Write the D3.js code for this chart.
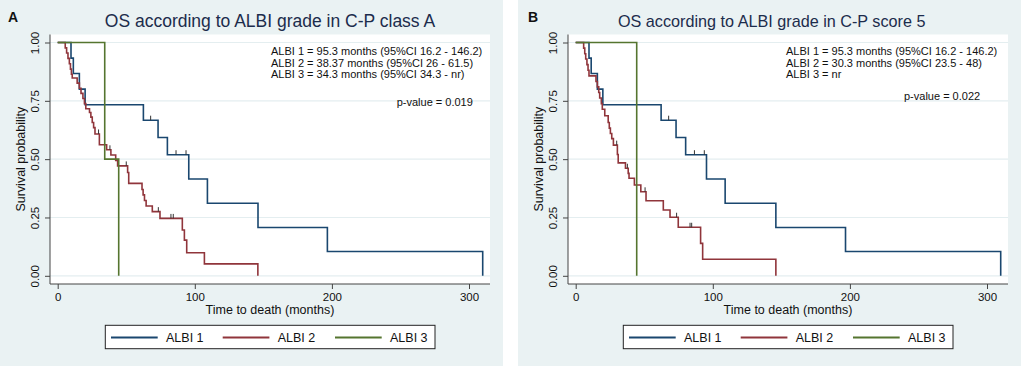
<!DOCTYPE html>
<html>
<head>
<meta charset="utf-8">
<script src="https://cdn.jsdelivr.net/npm/d3@7"></script>
<style>
  body { margin: 0; background: #fff; }
  svg { display: block; font-family: "Liberation Sans", Arial, sans-serif; }
</style>
</head>
<body>
<svg id="chart" width="1021" height="366"></svg>
<script>
// Series / axis definitions
const seriesNames = ["ALBI 1", "ALBI 2", "ALBI 3"];
const seriesColors = ["#1a476f", "#90353b", "#55752f"];
const timeTicks = [0, 100, 200, 300];
const survTicks = [0, 0.25, 0.5, 0.75, 1];
const survTickLabels = ["0.00", "0.25", "0.50", "0.75", "1.00"];

// Panel A: C-P class A
const aAlbi1Time = [0, 9.7, 11.4, 15.8, 20, 62.5, 73.2, 80, 95.6, 109.2, 146.1, 196.7, 310];
const aAlbi1Surv = [1, 0.933, 0.867, 0.8, 0.733, 0.667, 0.593, 0.519, 0.415, 0.311, 0.207, 0.104, 0];
const aAlbi1Cens = [67.8, 86.3, 93.6];
const aAlbi2Time = [0, 5.5, 6.5, 7.5, 8.5, 9.3, 10, 10.6, 14.2, 15.8, 17, 18.4, 19.5, 20.5, 23.2, 24.2, 25.2, 26.2, 27.2,
  30.4, 35.7, 38.8, 42.3, 43.7, 51, 51.8, 61.5, 62.3, 63.3, 64.5, 69, 74.6, 90.9, 92.4, 94.1, 107, 146];
const aAlbi2Surv = [1, 0.977, 0.955, 0.932, 0.909, 0.886, 0.864, 0.848, 0.826, 0.804, 0.782, 0.76, 0.738, 0.716, 0.7, 0.68, 0.657, 0.635, 0.608,
  0.562, 0.54, 0.518, 0.494, 0.471, 0.443, 0.396, 0.37, 0.347, 0.323, 0.299, 0.275, 0.246, 0.196, 0.153, 0.099, 0.051, 0];
const aAlbi2Cens = [29.8, 38.1, 50, 73.4, 82.6, 84.3];
const aAlbi3Time = [0, 34.3, 44.5];
const aAlbi3Surv = [1, 0.5, 0];
const aAlbi3Cens = [];
const aNotes = [
  "ALBI 1 = 95.3 months (95%CI 16.2 - 146.2)",
  "ALBI 2 = 38.37 months (95%CI 26 - 61.5)",
  "ALBI 3 = 34.3 months (95%CI 34.3 - nr)"
];
const aPValue = "p-value = 0.019";

// Panel B: C-P score 5
const bAlbi1Time = [0, 9.7, 11.3, 15.8, 19.8, 62.3, 73.2, 80.2, 95.4, 109, 146, 196.8, 310];
const bAlbi1Surv = [1, 0.933, 0.867, 0.8, 0.733, 0.667, 0.593, 0.519, 0.415, 0.311, 0.207, 0.104, 0];
const bAlbi1Cens = [67.8, 86.6, 93.8];
const bAlbi2Time = [0, 5.8, 6.6, 7.3, 8.2, 9, 9.7, 14.8, 15.8, 16.8, 17.5, 18.7, 19.4, 21.2, 23.7, 24.5, 25.3, 26.3, 27.5,
  30.4, 31, 36.3, 38.3, 38.9, 42.8, 47.5, 51.3, 63.9, 68.8, 74.8, 91.1, 92.6, 146];
const bAlbi2Surv = [1, 0.976, 0.952, 0.929, 0.905, 0.881, 0.857, 0.833, 0.81, 0.786, 0.762, 0.738, 0.714, 0.686, 0.657, 0.633, 0.61, 0.588, 0.56,
  0.52, 0.484, 0.461, 0.439, 0.418, 0.389, 0.36, 0.322, 0.282, 0.251, 0.208, 0.139, 0.071, 0];
const bAlbi2Cens = [29.9, 37.7, 50.6, 73.6, 83.4, 84.6];
const bAlbi3Time = [0, 44.5];
const bAlbi3Surv = [1, 0];
const bAlbi3Cens = [];
const bNotes = [
  "ALBI 1 = 95.3 months (95%CI 16.2 - 146.2)",
  "ALBI 2 = 30.3 months (95%CI 23.5 - 48)",
  "ALBI 3 = nr"
];
const bPValue = "p-value = 0.022";

const svg = d3.select("#chart");

function drawPanel(offsetX, cfg) {
  const g = svg.append("g").attr("transform", `translate(${offsetX},0)`);

  // graph region background
  g.append("rect").attr("x", 0).attr("y", 0).attr("width", 503).attr("height", 366).attr("fill", "#eaf2f3");

  const plot = { left: 50, right: 490, top: 34.5, bottom: 284 };
  g.append("rect")
    .attr("x", plot.left).attr("y", plot.top)
    .attr("width", plot.right - plot.left).attr("height", plot.bottom - plot.top)
    .attr("fill", "#fff");

  const x = d3.scaleLinear().domain([0, 300]).range([57.7, 469]);
  const y = d3.scaleLinear().domain([0, 1]).range([275.8, 42.5]);

  // grid lines
  g.selectAll(".grid").data(survTicks).enter().append("line")
    .attr("x1", plot.left).attr("x2", plot.right)
    .attr("y1", d => y(d)).attr("y2", d => y(d))
    .attr("stroke", "#e4eef0").attr("stroke-width", 1.2);

  // axes
  const yAxis = g.append("g")
    .attr("transform", `translate(${plot.left},0)`)
    .call(d3.axisLeft(y).tickValues(survTicks).tickSize(5).tickSizeOuter(0)
      .tickFormat((d, i) => survTickLabels[i]));
  yAxis.select(".domain").remove();
  yAxis.selectAll("line").attr("stroke", "#444");
  yAxis.selectAll("text")
    .attr("x", null).attr("dy", null)
    .attr("transform", "translate(-11,0) rotate(-90)")
    .attr("text-anchor", "middle")
    .style("font-size", "11.5px").attr("fill", "#111");

  const xAxis = g.append("g")
    .attr("transform", `translate(0,${plot.bottom})`)
    .call(d3.axisBottom(x).tickValues(timeTicks).tickSize(5).tickSizeOuter(0).tickFormat(d3.format("d")));
  xAxis.select(".domain").remove();
  xAxis.selectAll("line").attr("stroke", "#444");
  xAxis.selectAll("text")
    .attr("y", 16.5).attr("dy", null)
    .style("font-size", "11.5px").attr("fill", "#111");

  g.append("line").attr("x1", plot.left).attr("x2", plot.left)
    .attr("y1", plot.top).attr("y2", plot.bottom).attr("stroke", "#444");
  g.append("line").attr("x1", plot.left).attr("x2", plot.right)
    .attr("y1", plot.bottom).attr("y2", plot.bottom).attr("stroke", "#444");

  // axis titles
  g.append("text")
    .attr("transform", `translate(25,${(y(0) + y(1)) / 2}) rotate(-90)`)
    .attr("text-anchor", "middle").style("font-size", "12.5px").attr("fill", "#111")
    .text("Survival probability");
  g.append("text")
    .attr("x", (plot.left + plot.right) / 2).attr("y", 313.5)
    .attr("text-anchor", "middle").style("font-size", "12.5px").attr("fill", "#111")
    .text("Time to death (months)");

  // title and panel letter
  g.append("text")
    .attr("x", cfg.titleX).attr("y", 27.3)
    .attr("text-anchor", "middle").style("font-size", cfg.titleSize + "px").attr("fill", "#1c2c4c")
    .text(cfg.title);
  g.append("text")
    .attr("x", cfg.letterX).attr("y", 21.7)
    .style("font-size", "14px").style("font-weight", "bold").attr("fill", "#111")
    .text(cfg.letter);

  // KM curves
  const line = d3.line()
    .x(d => x(d[0]))
    .y(d => y(d[1]))
    .curve(d3.curveStepAfter);

  cfg.curves.forEach((c, i) => {
    const pts = c.time.map((t, j) => [t, c.surv[j]]);
    g.append("path")
      .datum(pts)
      .attr("d", line)
      .attr("fill", "none")
      .attr("stroke", seriesColors[i])
      .attr("stroke-width", 1.6);

    // censoring ticks
    c.cens.forEach(ct => {
      const idx = d3.bisectRight(c.time, ct) - 1;
      const s = c.surv[idx];
      g.append("line")
        .attr("x1", x(ct)).attr("x2", x(ct))
        .attr("y1", y(s)).attr("y2", y(s) - 4.5)
        .attr("stroke", "#333").attr("stroke-width", 1);
    });
  });

  // notes
  cfg.notes.forEach((n, i) => {
    g.append("text")
      .attr("x", cfg.notesX).attr("y", 54.7 + i * 11.8)
      .style("font-size", "11px").attr("fill", "#111")
      .text(n);
  });
  g.append("text")
    .attr("x", cfg.pX).attr("y", cfg.pY)
    .style("font-size", "11px").attr("fill", "#111")
    .text(cfg.pValue);

  // legend
  const legend = g.append("g");
  legend.append("rect")
    .attr("x", 105.3).attr("y", 325.3).attr("width", 329.7).attr("height", 23.4)
    .attr("fill", "#fff").attr("stroke", "#222").attr("stroke-width", 1);
  const itemX = [111, 222.7, 335];
  seriesNames.forEach((name, i) => {
    legend.append("line")
      .attr("x1", itemX[i]).attr("x2", itemX[i] + 46.7)
      .attr("y1", 337.5).attr("y2", 337.5)
      .attr("stroke", seriesColors[i]).attr("stroke-width", 1.8);
    legend.append("text")
      .attr("x", itemX[i] + 55).attr("y", 342)
      .style("font-size", "12.5px").attr("fill", "#111")
      .text(name);
  });
}

drawPanel(0, {
  title: "OS according to ALBI grade in C-P class A", titleX: 270, titleSize: 17.5,
  letter: "A", letterX: 8,
  curves: [
    { time: aAlbi1Time, surv: aAlbi1Surv, cens: aAlbi1Cens },
    { time: aAlbi2Time, surv: aAlbi2Surv, cens: aAlbi2Cens },
    { time: aAlbi3Time, surv: aAlbi3Surv, cens: aAlbi3Cens }
  ],
  notes: aNotes, notesX: 271, pValue: aPValue, pX: 396.7, pY: 106.3
});

drawPanel(518, {
  title: "OS according to ALBI grade in C-P score 5", titleX: 253.7, titleSize: 16.2,
  letter: "B", letterX: 10,
  curves: [
    { time: bAlbi1Time, surv: bAlbi1Surv, cens: bAlbi1Cens },
    { time: bAlbi2Time, surv: bAlbi2Surv, cens: bAlbi2Cens },
    { time: bAlbi3Time, surv: bAlbi3Surv, cens: bAlbi3Cens }
  ],
  notes: bNotes, notesX: 268, pValue: bPValue, pX: 386, pY: 99.7
});
</script>
</body>
</html>
